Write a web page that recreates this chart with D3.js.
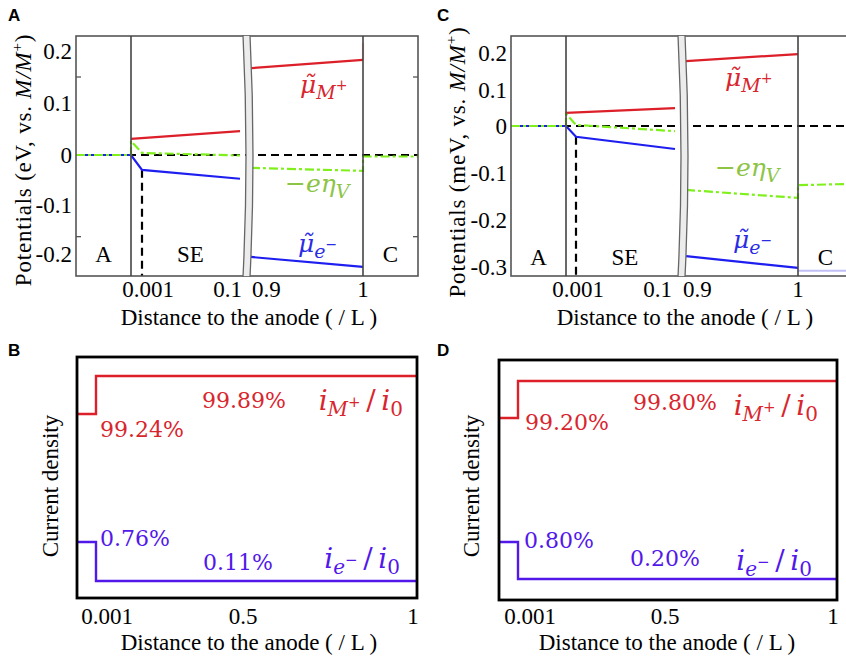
<!DOCTYPE html>
<html>
<head>
<meta charset="utf-8">
<script src="https://cdn.jsdelivr.net/npm/d3@7"></script>
<style>
  body { margin: 0; background: #fff; }
  svg text { font-family: "Liberation Serif", "Times New Roman", serif; }
</style>
</head>
<body>
<svg id="fig" width="846" height="658"></svg>
<script>
// ---- data ----
// x positions are in units of L (schematic, split axis with a break between 0.1 and 0.9)
var xTicksPot = [0.001, 0.1, 0.9, 1];
var yTicksA = [0.2, 0.1, 0, -0.1, -0.2];
var yTicksC = [0.2, 0.1, 0, -0.1, -0.2, -0.3];
var minorTicksA = [0.15, -0.165];
var regionNames = ["A", "SE", "C"];
var regionX = [-0.05, 0.05, 1.05];

// panel A (eV)
var muM_A1 = [[0, 0.031], [0.1, 0.046]];
var muM_A2 = [[0.9, 0.167], [1, 0.183]];
var muM_A3 = [[1, 0.183], [1, 0.215]];
var eta_A1 = [[-0.1, 0], [0, 0], [0, 0.027], [0.001, 0.004], [0.1, -0.001]];
var eta_A2 = [[0.9, -0.026], [1, -0.032], [1, -0.003], [1.1, -0.003]];
var muE_A1 = [[-0.1, 0], [0, 0], [0.001, -0.030], [0.1, -0.048]];
var muE_A2 = [[0.9, -0.206], [1, -0.226]];

// panel C (meV)
var muM_C1 = [[0, 0.036], [0.1, 0.049]];
var muM_C2 = [[0.9, 0.178], [1, 0.197]];
var eta_C1 = [[-0.1, 0], [0, 0], [0, 0.033], [0.001, 0.003], [0.1, -0.011]];
var eta_C2 = [[0.9, -0.136], [1, -0.153], [1, -0.126], [1.1, -0.123]];
var muE_C1 = [[-0.1, 0], [0, 0], [0.001, -0.023], [0.1, -0.049]];
var muE_C2 = [[0.9, -0.277], [1, -0.302]];
var muE_C3 = [[1, -0.308], [1.1, -0.308]];

// panels B and D (current fractions, %)
var stepX = [0, 0.001, 1];
var xTicksCur = [0.001, 0.5, 1];
var iM_B = [99.24, 99.89, 99.89];
var ie_B = [0.76, 0.11, 0.11];
var iM_D = [99.20, 99.80, 99.80];
var ie_D = [0.80, 0.20, 0.20];

// ---- styles ----
var svg = d3.select("#fig");
var mathFont = '"DejaVu Serif", serif';
var red = "#dc1f28", redTxt = "#d8262e";
var green = "#7ff01c", greenTxt = "#8cc446";
var blue = "#1e1ef0", blueTxt = "#2b2be4";
var violet = "#5218ea";
var fs = "23px";

// math-ish label made of tspans: [text, size, dy, italic]
function mathText(g, x, y, color, parts, anchor) {
  var t = g.append("text")
    .attr("x", x).attr("y", y)
    .attr("fill", color)
    .attr("text-anchor", anchor || "start")
    .style("font-family", mathFont);
  parts.forEach(function(p) {
    t.append("tspan")
      .attr("font-size", p[1] + "px")
      .attr("dy", p[2])
      .attr("font-style", p[3] ? "italic" : "normal")
      .text(p[0]);
  });
}

var lblMuM = [["\u03bc\u0303", 25, 0, 1], ["M", 19, 6, 1], ["+", 14, -9, 0]];
var lblMuE = [["\u03bc\u0303", 25, 0, 1], ["e", 19, 6, 1], ["\u2212", 14, -9, 0]];
var lblEta = [["\u2212", 25, 0, 0], ["e\u03b7", 25, 0, 1], ["V", 19, 6, 1]];
var lblIM = [["i", 28, 0, 1], ["M", 20, 6, 1], ["+", 15, -9, 0], ["\u2009/\u2009", 28, 3, 0], ["i", 28, 0, 1], ["0", 20, 6, 0]];
var lblIE = [["i", 28, 0, 1], ["e", 20, 6, 1], ["\u2212", 15, -9, 0], ["\u2009/\u2009", 28, 3, 0], ["i", 28, 0, 1], ["0", 20, 6, 0]];

function panelLetter(x, y, s) {
  svg.append("text").attr("x", x).attr("y", y)
    .style("font-family", '"Liberation Sans", Arial, sans-serif')
    .attr("font-weight", "bold").attr("font-size", "17px")
    .text(s);
}

// potential panels (A, C)
function drawPotential(o) {
  var g = svg.append("g");
  var xL = d3.scaleLinear().domain([-0.1, 0, 0.001, 0.1]).range(o.xl);
  var xR = d3.scaleLinear().domain([0.9, 1, 1.1]).range(o.xr);
  var y = d3.scaleLinear().domain(o.yd).range(o.yr);
  var left = o.xl[0], right = o.xr[2], top = o.top, bot = o.bot;

  svg.append("clipPath").attr("id", "clip" + o.letter)
    .append("rect").attr("x", left).attr("y", top)
    .attr("width", right - left).attr("height", bot - top);
  var plot = g.append("g").attr("clip-path", "url(#clip" + o.letter + ")");

  var lineL = d3.line().x(function(d) { return xL(d[0]); }).y(function(d) { return y(d[1]); });
  var lineR = d3.line().x(function(d) { return xR(d[0]); }).y(function(d) { return y(d[1]); });

  // black dashed zero line
  plot.append("line")
    .attr("x1", left).attr("x2", right)
    .attr("y1", y(0)).attr("y2", y(0))
    .attr("stroke", "#000").attr("stroke-width", 2.2)
    .attr("stroke-dasharray", "8,5");

  // dashed vertical at 0.001
  plot.append("line")
    .attr("x1", xL(0.001)).attr("x2", xL(0.001))
    .attr("y1", y(o.muE1[2][1])).attr("y2", bot)
    .attr("stroke", "#000").attr("stroke-width", 2.2)
    .attr("stroke-dasharray", "8,5");

  function addLine(data, fn, color, dash, op) {
    plot.append("path").datum(data)
      .attr("d", fn)
      .attr("fill", "none")
      .attr("stroke", color)
      .attr("stroke-width", 2.2)
      .attr("stroke-opacity", op || 1)
      .attr("stroke-dasharray", dash || null);
  }
  addLine(o.muE1, lineL, blue);
  addLine(o.muE2, lineR, blue);
  if (o.muE3) addLine(o.muE3, lineR, "#b9b9f6", null, 0.9);
  addLine(o.muM1, lineL, red);
  addLine(o.muM2, lineR, red);
  if (o.muM3) addLine(o.muM3, lineR, red, null, 0.3);
  addLine(o.eta1, lineL, green, "9,3,3,3");
  addLine(o.eta2, lineR, green, "9,3,3,3");

  // frame and region dividers
  g.append("rect")
    .attr("x", left).attr("y", top)
    .attr("width", right - left).attr("height", bot - top)
    .attr("fill", "none").attr("stroke", "#555").attr("stroke-width", 1.6);
  [xL(0), xR(1)].forEach(function(xx) {
    g.append("line").attr("x1", xx).attr("x2", xx)
      .attr("y1", top).attr("y2", bot)
      .attr("stroke", "#444").attr("stroke-width", 1.6);
  });

  // axis break
  var b0 = xL(0.1) + 3, b1 = xR(0.9) - 1, mid = (top + bot) / 2;
  g.append("path")
    .attr("d", "M" + b0 + "," + top + "Q" + (b0 + 6) + "," + mid + " " + b0 + "," + bot +
      "L" + b1 + "," + bot + "Q" + (b1 + 6) + "," + mid + " " + b1 + "," + top + "Z")
    .attr("fill", "#ececec").attr("stroke", "none");
  [b0, b1].forEach(function(bx) {
    g.append("path")
      .attr("d", "M" + bx + "," + (top - 1) + "Q" + (bx + 6) + "," + mid + " " + bx + "," + (bot + 1))
      .attr("fill", "none").attr("stroke", "#666").attr("stroke-width", 1.3);
  });

  // minor frame ticks
  (o.minor || []).forEach(function(v) {
    g.append("line").attr("x1", left).attr("x2", left + 5).attr("y1", y(v)).attr("y2", y(v))
      .attr("stroke", "#555").attr("stroke-width", 1.3);
    g.append("line").attr("x1", right - 5).attr("x2", right).attr("y1", y(v)).attr("y2", y(v))
      .attr("stroke", "#555").attr("stroke-width", 1.3);
  });

  // y axis labels
  var yAxis = d3.axisLeft(y).tickValues(o.yTicks).tickSize(0).tickPadding(4)
    .tickFormat(function(d) { return String(d); });
  var ya = g.append("g").attr("transform", "translate(" + left + ",0)").call(yAxis);
  ya.select(".domain").remove();
  ya.selectAll("text").attr("font-size", fs).attr("fill", "#000").attr("dy", "0.34em")
    .style("font-family", '"Liberation Serif", serif');

  // x tick labels
  xTicksPot.forEach(function(v, i) {
    var xx = v <= 0.1 ? xL(v) : xR(v);
    g.append("text")
      .attr("x", xx + o.tickDx[i]).attr("y", o.tickY)
      .attr("text-anchor", o.tickAnchor[i])
      .attr("font-size", fs)
      .text(String(v));
  });

  // region labels
  regionNames.forEach(function(s, i) {
    var v = regionX[i];
    g.append("text")
      .attr("x", v <= 0.1 ? xL(v) : xR(v)).attr("y", o.regY)
      .attr("text-anchor", "middle").attr("font-size", "23px")
      .text(s);
  });

  // axis titles
  g.append("text").attr("x", o.xTitle[0]).attr("y", o.xTitle[1])
    .attr("text-anchor", "middle").attr("font-size", fs)
    .text("Distance to the anode ( / L )");
  var yt = g.append("text")
    .attr("transform", "translate(" + o.yTitle[0] + "," + o.yTitle[1] + ") rotate(-90)")
    .attr("text-anchor", "middle").attr("font-size", fs)
    .attr("letter-spacing", "0.8px");
  yt.append("tspan").text("Potentials (" + o.unit + ", vs. ");
  yt.append("tspan").attr("font-style", "italic").text("M/M");
  yt.append("tspan").attr("font-size", "15px").attr("dy", -9).text("+");
  yt.append("tspan").attr("dy", 9).text(")");

  // curve labels
  mathText(g, o.lMuM[0], o.lMuM[1], redTxt, lblMuM);
  mathText(g, o.lEta[0], o.lEta[1], greenTxt, lblEta);
  mathText(g, o.lMuE[0], o.lMuE[1], blueTxt, lblMuE);

  panelLetter(o.letterPos[0], o.letterPos[1], o.letter);
}

// current density panels (B, D)
function drawCurrent(o) {
  var g = svg.append("g");
  var x = d3.scaleLinear().domain([0, 0.001, 0.5, 1]).range(o.xr);
  // schematic (non-uniform) y axis
  var y = d3.scaleLinear().domain([o.ie[1], o.ie[0], o.iM[0], o.iM[1]]).range(o.yr);
  var left = o.xr[0], right = o.xr[3];

  var line = d3.line().curve(d3.curveStepAfter)
    .x(function(d, i) { return x(stepX[i]); })
    .y(function(d) { return y(d); });

  g.append("path").datum(o.iM).attr("d", line)
    .attr("fill", "none").attr("stroke", red).attr("stroke-width", 2.4);
  g.append("path").datum(o.ie).attr("d", line)
    .attr("fill", "none").attr("stroke", violet).attr("stroke-width", 2.4);

  g.append("rect")
    .attr("x", left).attr("y", o.top)
    .attr("width", right - left).attr("height", o.bot - o.top)
    .attr("fill", "none").attr("stroke", "#000").attr("stroke-width", 2.8);

  var fmt = function(v) { return d3.format(".2f")(v) + "%"; };
  function pct(v, p, color, anchor) {
    g.append("text").attr("x", p[0]).attr("y", p[1])
      .attr("text-anchor", anchor).attr("fill", color)
      .attr("font-size", "22px").style("font-family", mathFont)
      .text(fmt(v));
  }
  pct(o.iM[0], o.p1, redTxt, "start");
  pct(o.iM[1], o.p2, redTxt, "middle");
  pct(o.ie[0], o.p3, violet, "start");
  pct(o.ie[1], o.p4, violet, "middle");

  mathText(g, right - o.lIM[0], o.lIM[1], redTxt, lblIM, "end");
  mathText(g, right - o.lIE[0], o.lIE[1], violet, lblIE, "end");

  xTicksCur.forEach(function(v, i) {
    g.append("text")
      .attr("x", x(v) + o.tickDx[i]).attr("y", 624)
      .attr("text-anchor", "middle").attr("font-size", fs)
      .text(String(v));
  });

  g.append("text").attr("x", o.xTitle).attr("y", 650)
    .attr("text-anchor", "middle").attr("font-size", fs)
    .text("Distance to the anode ( / L )");
  g.append("text")
    .attr("transform", "translate(" + o.yTitle[0] + "," + o.yTitle[1] + ") rotate(-90)")
    .attr("text-anchor", "middle").attr("font-size", fs)
    .text("Current density");

  panelLetter(o.letterPos[0], o.letterPos[1], o.letter);
}

drawPotential({
  letter: "A", letterPos: [8, 21],
  xl: [76, 131, 142, 240], xr: [251, 363, 418], top: 36, bot: 276,
  yd: [-0.2, 0, 0.2], yr: [254, 155, 51], yTicks: yTicksA, minor: minorTicksA,
  muM1: muM_A1, muM2: muM_A2, muM3: muM_A3,
  eta1: eta_A1, eta2: eta_A2, muE1: muE_A1, muE2: muE_A2,
  tickDx: [6, 2, 1, 0], tickAnchor: ["middle", "end", "start", "middle"], tickY: 297,
  regY: 262, xTitle: [249, 325], yTitle: [31, 160], unit: "eV",
  lMuM: [300, 93], lEta: [285, 192], lMuE: [298, 252]
});

drawPotential({
  letter: "C", letterPos: [437, 21],
  xl: [511, 566, 576, 675], xr: [686, 798, 853], top: 36, bot: 276,
  yd: [-0.3, 0, 0.2], yr: [267, 126, 53], yTicks: yTicksC,
  muM1: muM_C1, muM2: muM_C2,
  eta1: eta_C1, eta2: eta_C2, muE1: muE_C1, muE2: muE_C2, muE3: muE_C3,
  tickDx: [2, -3, -3, 0], tickAnchor: ["middle", "end", "start", "middle"], tickY: 297,
  regY: 265, xTitle: [685, 325], yTitle: [465, 162], unit: "meV",
  lMuM: [725, 86], lEta: [715, 176], lMuE: [733, 248]
});

drawCurrent({
  letter: "B", letterPos: [8, 356],
  xr: [77, 96, 243, 417], yr: [581, 542, 414, 376], top: 357, bot: 598,
  iM: iM_B, ie: ie_B,
  p1: [100, 437], p2: [244, 408], p3: [100, 546], p4: [238, 570],
  lIM: [14, 410], lIE: [17, 568],
  tickDx: [11, 0, -4], xTitle: 249, yTitle: [58, 486]
});

drawCurrent({
  letter: "D", letterPos: [437, 356],
  xr: [499, 518, 665, 837], yr: [579, 542, 418, 381], top: 360, bot: 600,
  iM: iM_D, ie: ie_D,
  p1: [525, 430], p2: [675, 410], p3: [524, 548], p4: [665, 566],
  lIM: [19, 415], lIE: [25, 570],
  tickDx: [12, 0, -4], xTitle: 667, yTitle: [479, 486]
});
</script>
</body>
</html>
